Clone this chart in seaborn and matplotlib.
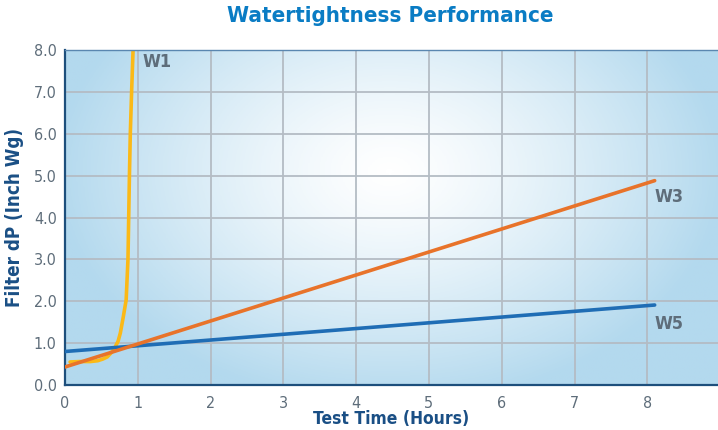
import numpy as np
import matplotlib.pyplot as plt
import seaborn as sns
from matplotlib.colors import LinearSegmentedColormap

# ---- data ----
w1_time = [0.07, 0.20, 0.35, 0.45, 0.52, 0.58, 0.64, 0.69, 0.73, 0.76, 0.80, 0.84, 0.865, 0.875, 0.885, 0.897, 0.915, 0.935]
w1_dp = [0.55, 0.56, 0.56, 0.58, 0.62, 0.67, 0.78, 0.91, 1.05, 1.24, 1.62, 2.03, 3.0, 4.0, 5.0, 6.0, 7.0, 8.0]

w3_time = [0.0, 8.1]
w3_dp = [0.43, 4.88]

w5_time = [0.0, 8.1]
w5_dp = [0.80, 1.91]

x_ticks = [0, 1, 2, 3, 4, 5, 6, 7, 8]
y_ticks = [0.0, 1.0, 2.0, 3.0, 4.0, 5.0, 6.0, 7.0, 8.0]

sns.set_style("white")
plt.rcParams['font.family'] = ['DejaVu Sans']
plt.rcParams['font.stretch'] = 'condensed'

fig = plt.figure(figsize=(7.18, 4.3), dpi=100)
ax = fig.add_axes([65 / 718, 45 / 430, 1 - 65 / 718, 335 / 430])

x_max = 8.97
# radial background gradient, white in the middle, light blue at the edges
gx, gy = np.meshgrid(np.linspace(0, x_max, 400), np.linspace(0, 8, 300))
r = np.sqrt(((gx - 4.46) / 4.6) ** 2 + ((gy - 5.1) / 5.6) ** 2)
r = np.clip(r, 0, 1) ** 1.3
bg_cmap = LinearSegmentedColormap.from_list("bg", ["#ffffff", "#b3d9ee"])
ax.imshow(r, extent=(0, x_max, 0, 8), origin="lower", aspect="auto",
          cmap=bg_cmap, vmin=0, vmax=1, zorder=0)

ax.grid(True, color="#b4bcc4", lw=1.3, zorder=1)
ax.set_axisbelow(True)

sns.lineplot(x=w5_time, y=w5_dp, ax=ax, color="#1f6db5", lw=2.6, zorder=3)
sns.lineplot(x=w3_time, y=w3_dp, ax=ax, color="#e8732a", lw=2.6, zorder=4)
sns.lineplot(x=w1_time, y=w1_dp, ax=ax, color="#fbb917", lw=2.6, sort=False,
             estimator=None, zorder=2)

lab_kw = dict(color="#5e6d7a", fontsize=13, fontweight="bold", zorder=5)
ax.text(1.07, 7.72, "W1", ha="left", va="center", **lab_kw)
ax.text(8.1, 4.5, "W3", ha="left", va="center", **lab_kw)
ax.text(8.1, 1.45, "W5", ha="left", va="center", **lab_kw)

ax.set_xlim(0, x_max)
ax.set_ylim(0, 8)
ax.set_xticks(x_ticks)
ax.set_yticks(y_ticks)
ax.set_yticklabels([f"{v:.1f}" for v in y_ticks])
ax.tick_params(length=0, labelsize=11.5, labelcolor="#5e6d7a")
ax.tick_params(axis="x", pad=8)
ax.tick_params(axis="y", pad=6)

ax.set_xlabel("Test Time (Hours)", fontsize=12.5, fontweight="bold", color="#1a4f85")
ax.xaxis.set_label_coords(0.5, -0.075)
ax.set_ylabel("Filter dP (Inch Wg)", fontsize=13.5, fontweight="bold", color="#1a4f85", labelpad=7)
fig.suptitle("Watertightness Performance", fontsize=16, fontweight="bold", color="#0a7cc4",
             x=0.543, y=0.985)

for side in ["left", "bottom"]:
    ax.spines[side].set_color("#1d4f7c")
    ax.spines[side].set_linewidth(1.6)
ax.spines["top"].set_color("#5a87b0")
ax.spines["top"].set_linewidth(1.0)
ax.spines["right"].set_visible(False)

fig.savefig("out.png", dpi=100)
